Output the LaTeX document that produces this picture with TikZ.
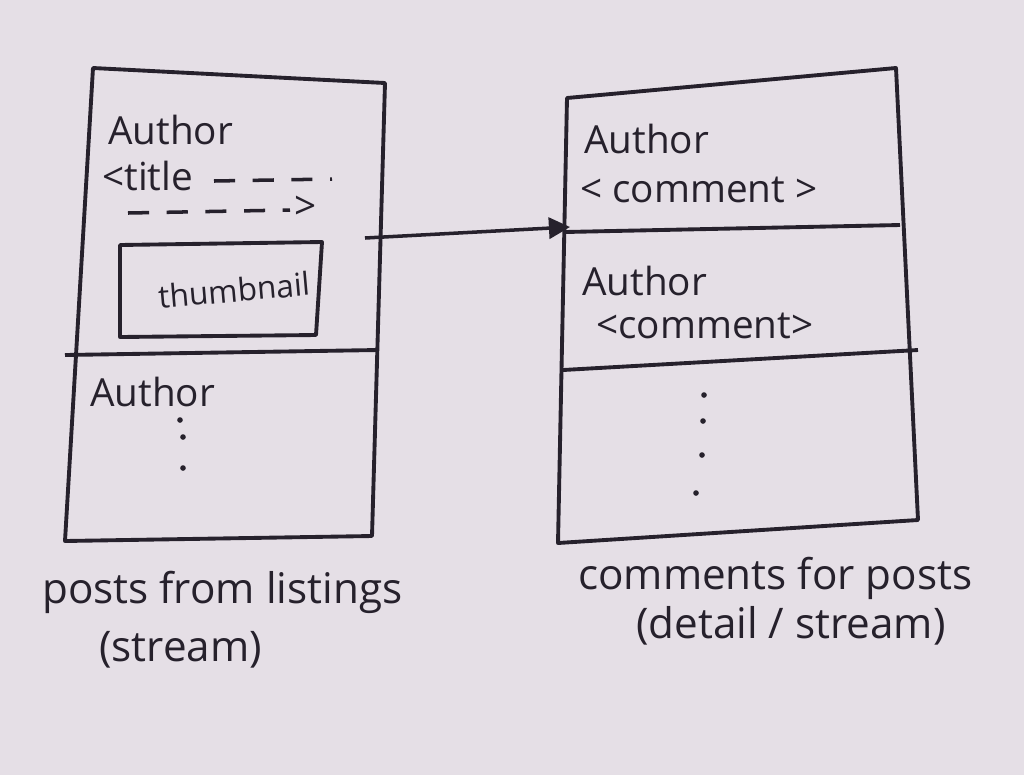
\documentclass[tikz,border=0pt]{standalone}
\usepackage{fontspec}
\setmainfont{Open Sans}
\usetikzlibrary{arrows.meta}
\usetikzlibrary{positioning}
\usepackage{xcolor}
\definecolor{paper}{RGB}{229,223,230}
\definecolor{ink}{RGB}{38,33,44}

\begin{document}
\begin{tikzpicture}[
    x=0.01cm, y=-0.01cm, >={Triangle[length=6pt,width=6pt]},
    % sketch styles
    sketch line/.style={
        draw=ink,
        line width=1.1pt,
        line join=round
    },
    dashed line/.style={
        draw=ink,
        line width=1pt,
        dash pattern=on 6pt off 5pt
    },
    link edge/.style={->, draw=ink, line width=1pt},
    % text styles
    hand text/.style={
        text=ink,
        inner sep=1pt,
        font=\fontsize{11}{13}\selectfont
    },
    caption text/.style={
        text=ink,
        inner sep=1pt,
        font=\fontsize{12}{14}\selectfont
    },
    ellipsis dot/.style={circle, fill=ink, inner sep=0pt, minimum size=1.6pt}
]

% paper
\fill[paper] (0,0) rectangle (1024,775);
\useasboundingbox (0,0) rectangle (1024,775);

% -------------------------------
% posts (left card)
\coordinate (posts-nw) at (93,68);
\coordinate (posts-ne) at (385,83);
\coordinate (posts-se) at (372,536);
\coordinate (posts-sw) at (65,541);
\draw[sketch line] (posts-nw) -- (posts-ne) -- (posts-se) -- (posts-sw) -- cycle;
\draw[sketch line] (65,355) -- (378,350);

\node[hand text, anchor=west] (post-author) at (104,130) {Author};
\node[hand text, anchor=west] (post-title) at (98,176) {<title};
\draw[dashed line] (214,181) -- (332,179);
\draw[dashed line] (128,213) -- (290,210);
\node[hand text, anchor=west] (post-title-end) at (290,208) {>};

% thumbnail box
\coordinate (thumb-nw) at (120,245);
\coordinate (thumb-ne) at (322,242);
\coordinate (thumb-se) at (316,335);
\coordinate (thumb-sw) at (120,337);
\draw[sketch line] (thumb-nw) -- (thumb-ne) -- (thumb-se) -- (thumb-sw) -- cycle;
\node[hand text, rotate=5, font=\fontsize{9}{11}\selectfont] (thumb-label) at (234,290) {thumbnail};

\node[hand text, anchor=west] (next-author) at (86,392) {Author};
\foreach \x/\y [count=\i] in {180/420, 183/437, 183/468}
    \node[ellipsis dot] (post-dot-\i) at (\x,\y) {};

% -------------------------------
% comments (right card)
\coordinate (comments-nw) at (567,98);
\coordinate (comments-ne) at (896,68);
\coordinate (comments-se) at (918,520);
\coordinate (comments-sw) at (558,543);
\draw[sketch line] (comments-nw) -- (comments-ne) -- (comments-se) -- (comments-sw) -- cycle;
\draw[sketch line] (565,232) -- (900,225);
\draw[sketch line] (563,370) -- (918,350);

\node[hand text, anchor=west] (comment-author-1) at (580,139) {Author};
\node[hand text, anchor=west] (comment-text-1) at (576,190) {< comment >};
\node[hand text, anchor=west] (comment-author-2) at (578,281) {Author};
\node[hand text, anchor=west] (comment-text-2) at (592,326) {<comment>};
\foreach \x/\y [count=\i] in {704/395, 703/421, 702/455, 696/493}
    \node[ellipsis dot] (comment-dot-\i) at (\x,\y) {};

% -------------------------------
% link from post to its comments
\coordinate (post-link) at (365,238);
\coordinate (comments-link) at (570,227);
\draw[link edge] (post-link) -- (comments-link);

% -------------------------------
% captions
\node[caption text, anchor=west] (posts-caption) at (38,592) {posts from listings};
\node[caption text, anchor=west] (posts-caption-2) at (95,650) {(stream)};
\node[caption text, anchor=west] (comments-caption) at (574,578) {comments for posts};
\node[caption text, anchor=west] (comments-caption-2) at (632,626) {(detail / stream)};

\end{tikzpicture}
\end{document}
